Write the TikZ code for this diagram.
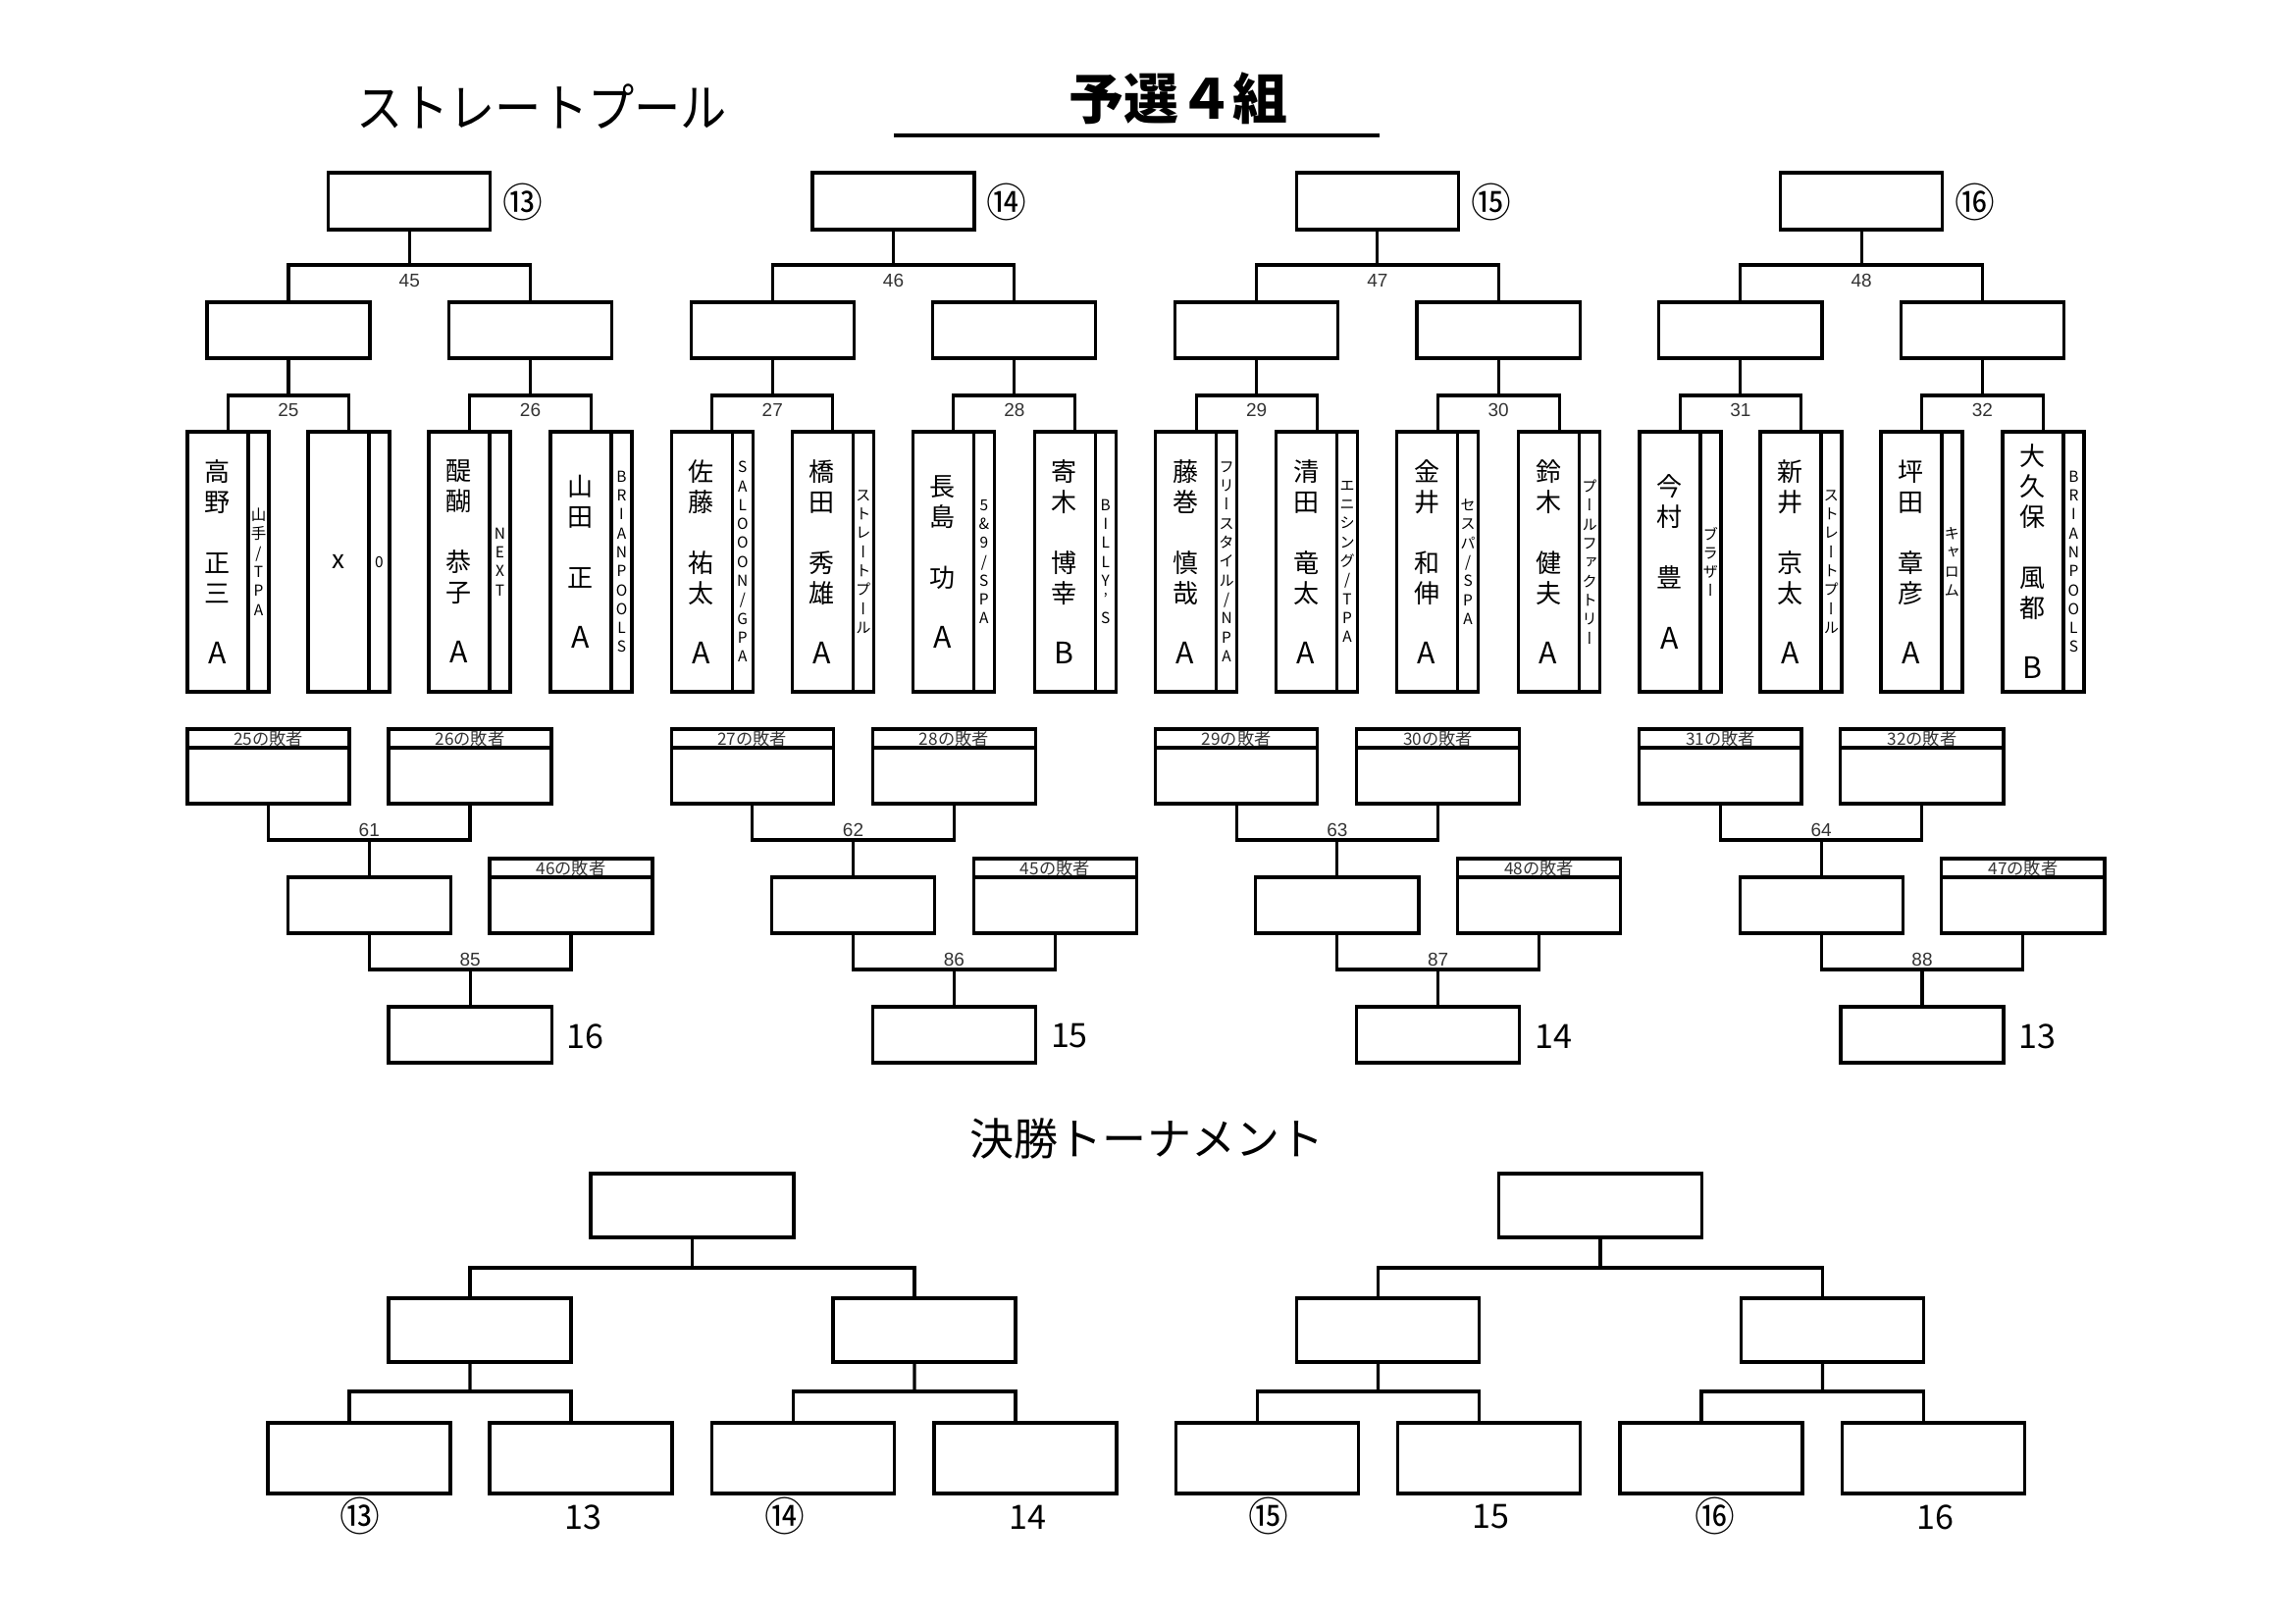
\documentclass[tikz,border=0pt]{standalone}
\usepackage{fontspec}
\usepackage{graphicx}
\setmainfont{Liberation Sans}
\newfontfamily\jp{Noto Sans CJK JP}
\newfontfamily\jpv{Noto Sans CJK JP}[RawFeature={+vert}]
\usetikzlibrary{calc}
\newcommand\gr[1]{{\fontsize{8.6pt}{8.82pt}\selectfont #1}}
\newcommand\pl[4]{%
  \node[nm] (n#1#2) at ($(p#1#2.center)+(-11,0)$) {#3};
  \node[org] (o#1#2) at ($(p#1#2.center)+(31,0)$) {#4};}
\begin{document}
\begin{tikzpicture}[x=0.01cm,y=-0.01cm,
  bx/.style={draw,line width=0.92pt,rectangle,inner sep=0pt,outer sep=0pt},
  pbox/.style={bx,minimum width=0.83cm,minimum height=2.65cm},
  mbox/.style={bx,minimum width=1.66cm,minimum height=0.57cm},
  lbox/.style={bx,minimum width=1.66cm,minimum height=0.76cm},
  fnbox/.style={bx,minimum width=1.86cm,minimum height=0.72cm},
  sfbox/.style={bx,minimum width=1.86cm,minimum height=0.65cm},
  tfbox/.style={bx,minimum width=2.07cm,minimum height=0.65cm},
  cn/.style={line width=0.88pt},
  dv/.style={line width=0.92pt},
  nm/.style={font=\jp\fontsize{7.4pt}{8.82pt}\selectfont,align=center,inner sep=0pt},
  org/.style={font=\jpv\fontsize{4.4pt}{5.49pt}\selectfont,align=center,inner sep=0pt},
  lbl/.style={font=\fontsize{5.4pt}{6pt}\selectfont,text=black!80,inner sep=0pt},
  hdr/.style={font=\jp\fontsize{4.9pt}{6pt}\selectfont,text=black!80,inner sep=0pt},
  bignum/.style={font=\jp\fontsize{9.7pt}{11pt}\selectfont,inner sep=0pt},
  circ/.style={font=\jp\fontsize{11.6pt}{12pt}\selectfont,inner sep=0pt},
  ttl/.style={inner sep=0pt}
]
\useasboundingbox (0,0) rectangle (2339,1654);

% titles
\node[ttl,font=\jp\fontsize{15pt}{16pt}\selectfont] (title1) at (552,108) {\scalebox{0.895}[1]{ストレートプール}};
\node[ttl,font=\jp\bfseries\fontsize{15.9pt}{17pt}\selectfont] (title2) at (1201,100) {予選４組};
\coordinate (ul1) at (911,138);
\coordinate (ul2) at (1406,138);
\draw[line width=1.28pt] (ul1) -- (ul2);
\node[ttl,font=\jp\fontsize{12.8pt}{14pt}\selectfont] (title3) at (1169,1160) {決勝トーナメント};

% groups
\foreach \g/\ra/\rb/\rc/\ci/\lw/\ma/\mb/\fin in
  {0/25/26/45/⑬/46/61/85/16, 1/27/28/46/⑭/45/62/86/15,
   2/29/30/47/⑮/48/63/87/14, 3/31/32/48/⑯/47/64/88/13} {
  \pgfmathsetmacro\dx{493.3*\g}
  \foreach \i/\o in {0/0,1/123,2/246,3/370} {
    \node[pbox] (p\g\i) at ({232.5+\dx+\o},572.5) {};
    \draw[dv] ($(p\g\i.north west)+(62,0)$) -- ($(p\g\i.south west)+(62,0)$);
  }
  \node[mbox] (sa\g) at ({294+\dx},336.5) {};
  \node[mbox] (sb\g) at ({540.5+\dx},336.5) {};
  \node[bx,minimum width=1.65cm,minimum height=0.58cm] (tp\g) at ({417.25+\dx},205) {};
  \node[circ] (ci\g) at ({533+\dx},206) {\ci};
  % round 1 brackets
  \coordinate (ja\g) at ({294+\dx},403);
  \draw[cn] (p\g0.north) |- (ja\g) -| (p\g1.north);
  \draw[cn] (ja\g) -- (sa\g.south);
  \node[lbl] (la\g) at ({294+\dx},418) {\ra};
  \coordinate (jb\g) at ({540.5+\dx},403);
  \draw[cn] (p\g2.north) |- (jb\g) -| (p\g3.north);
  \draw[cn] (jb\g) -- (sb\g.south);
  \node[lbl] (lb\g) at ({540.5+\dx},418) {\rb};
  % round 2 bracket
  \coordinate (jc\g) at ({417.25+\dx},270);
  \draw[cn] (sa\g.north) |- (jc\g) -| (sb\g.north);
  \draw[cn] (jc\g) -- (tp\g.south);
  \node[lbl] (lc\g) at ({417.25+\dx},286) {\rc};
  % losers
  \node[lbox,minimum width=1.65cm] (xa\g) at ({273.5+\dx},781) {};
  \draw[dv] ($(xa\g.north west)+(0,19)$) -- ($(xa\g.north east)+(0,19)$);
  \node[hdr] (ha\g) at ({273.5+\dx},752.5) {\ra{}の敗者};
  \node[lbox] (xb\g) at ({479+\dx},781) {};
  \draw[dv] ($(xb\g.north west)+(0,19)$) -- ($(xb\g.north east)+(0,19)$);
  \node[hdr] (hb\g) at ({479+\dx},752.5) {\rb{}の敗者};
  \node[mbox] (w\g) at ({376.25+\dx},922.5) {};
  \node[lbox] (xc\g) at ({582+\dx},913) {};
  \draw[dv] ($(xc\g.north west)+(0,19)$) -- ($(xc\g.north east)+(0,19)$);
  \node[hdr] (hc\g) at ({582+\dx},884.5) {\lw{}の敗者};
  \coordinate (jd\g) at ({376.25+\dx},856);
  \draw[cn] (xa\g.south) |- (jd\g) -| (xb\g.south);
  \draw[cn] (jd\g) -- (w\g.north);
  \node[lbl] (ld\g) at ({376.25+\dx},846) {\ma};
  \node[mbox] (f\g) at ({479.1+\dx},1054.5) {};
  \coordinate (je\g) at ({479.1+\dx},988);
  \draw[cn] (w\g.south) |- (je\g) -| (xc\g.south);
  \draw[cn] (je\g) -- (f\g.north);
  \node[lbl] (le\g) at ({479.1+\dx},978) {\mb};
  \node[bignum,anchor=west] (fn\g) at ({577+\dx},1056) {\fin};
}

% players
\pl{0}{0}{高\\野\\\mbox{}\\正\\三\\\mbox{}\\\gr{A}}{山\\手\\/\\T\\P\\A}
\pl{0}{1}{x}{0}
\pl{0}{2}{醍\\醐\\\mbox{}\\恭\\子\\\mbox{}\\\gr{A}}{N\\E\\X\\T}
\pl{0}{3}{山\\田\\\mbox{}\\正\\\mbox{}\\\gr{A}}{B\\R\\I\\A\\N\\P\\O\\O\\L\\S}
\pl{1}{0}{佐\\藤\\\mbox{}\\祐\\太\\\mbox{}\\\gr{A}}{S\\A\\L\\O\\O\\O\\N\\/\\G\\P\\A}
\pl{1}{1}{橋\\田\\\mbox{}\\秀\\雄\\\mbox{}\\\gr{A}}{ス\\ト\\レ\\ー\\ト\\プ\\ー\\ル}
\pl{1}{2}{長\\島\\\mbox{}\\功\\\mbox{}\\\gr{A}}{5\\\&\\9\\/\\S\\P\\A}
\pl{1}{3}{寄\\木\\\mbox{}\\博\\幸\\\mbox{}\\\gr{B}}{B\\I\\L\\L\\Y\\’\\S}
\pl{2}{0}{藤\\巻\\\mbox{}\\慎\\哉\\\mbox{}\\\gr{A}}{フ\\リ\\ー\\ス\\タ\\イ\\ル\\/\\N\\P\\A}
\pl{2}{1}{清\\田\\\mbox{}\\竜\\太\\\mbox{}\\\gr{A}}{エ\\ニ\\シ\\ン\\グ\\/\\T\\P\\A}
\pl{2}{2}{金\\井\\\mbox{}\\和\\伸\\\mbox{}\\\gr{A}}{セ\\ス\\パ\\/\\S\\P\\A}
\pl{2}{3}{鈴\\木\\\mbox{}\\健\\夫\\\mbox{}\\\gr{A}}{プ\\ー\\ル\\フ\\ァ\\ク\\ト\\リ\\ー}
\pl{3}{0}{今\\村\\\mbox{}\\豊\\\mbox{}\\\gr{A}}{ブ\\ラ\\ザ\\ー}
\pl{3}{1}{新\\井\\\mbox{}\\京\\太\\\mbox{}\\\gr{A}}{ス\\ト\\レ\\ー\\ト\\プ\\ー\\ル}
\pl{3}{2}{坪\\田\\\mbox{}\\章\\彦\\\mbox{}\\\gr{A}}{キ\\ャ\\ロ\\ム}
\pl{3}{3}{大\\久\\保\\\mbox{}\\風\\都\\\mbox{}\\\gr{B}}{B\\R\\I\\A\\N\\P\\O\\O\\L\\S}

% final tournament
\foreach \k/\h/\ca/\na/\cb/\cbx/\nb in {1/0/⑬/13/⑭/800/14, 2/925.5/⑮/15/⑯/1748/16} {
  \node[tfbox] (ft\k) at ({705.5+\h},1228.5) {};
  \node[sfbox] (fsa\k) at ({489+\h},1355.5) {};
  \node[sfbox] (fsb\k) at ({942+\h},1355.5) {};
  \node[fnbox] (fba\k) at ({366+\h},1486) {};
  \node[fnbox] (fbb\k) at ({592+\h},1486) {};
  \node[fnbox] (fbc\k) at ({818.5+\h},1486) {};
  \node[fnbox] (fbd\k) at ({1045+\h},1486) {};
  \coordinate (fj\k) at ({705.5+\h},1292);
  \draw[cn] ([xshift=-0.1cm]fsa\k.north) |- (fj\k) -| ([xshift=-0.1cm]fsb\k.north);
  \draw[cn] (fj\k) -- (ft\k.south);
  \coordinate (fk\k) at ({479+\h},1418);
  \draw[cn] ([xshift=-0.1cm]fba\k.north) |- (fk\k) -| ([xshift=-0.1cm]fbb\k.north);
  \draw[cn] (fk\k) -- ([xshift=-0.1cm]fsa\k.south);
  \coordinate (fm\k) at ({932+\h},1418);
  \draw[cn] ([xshift=-0.1cm]fbc\k.north) |- (fm\k) -| ([xshift=-0.1cm]fbd\k.north);
  \draw[cn] (fm\k) -- ([xshift=-0.1cm]fsb\k.south);
  \node[circ] (fca\k) at ({367+\h},1545) {\ca};
  \node[bignum] (fna\k) at ({594+\h},1546) {\na};
  \node[circ] (fcb\k) at (\cbx,1545) {\cb};
  \node[bignum] (fnb\k) at ({1047+\h},1546) {\nb};
}
\end{tikzpicture}
\end{document}
